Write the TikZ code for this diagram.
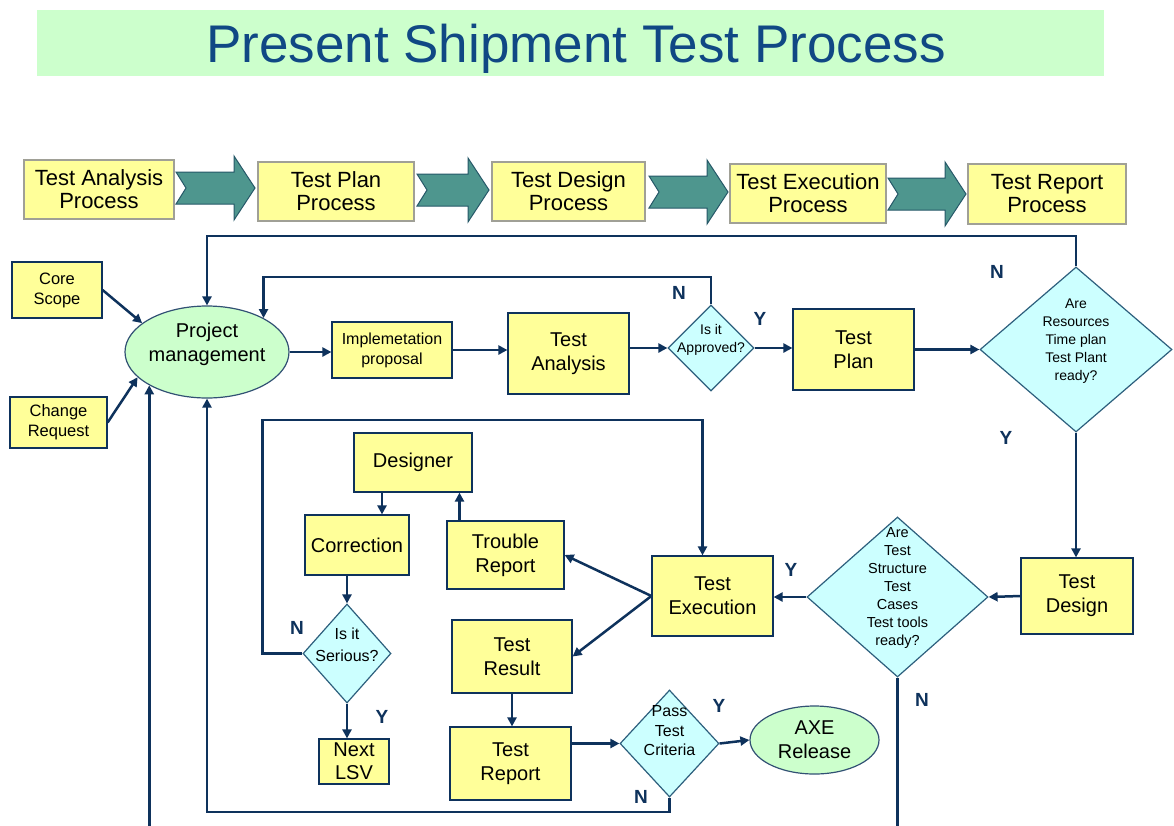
\documentclass[tikz,border=0pt]{standalone}
\usepackage{fontspec}
\setmainfont{Liberation Sans}
\usetikzlibrary{shapes.geometric,arrows.meta}
\definecolor{ln}{RGB}{14,50,92}
\definecolor{boxy}{RGB}{255,255,153}
\definecolor{diac}{RGB}{204,255,255}
\definecolor{ellg}{RGB}{204,255,204}
\definecolor{titc}{RGB}{16,72,132}
\definecolor{arrf}{RGB}{78,150,142}
\definecolor{arrd}{RGB}{38,88,104}
\definecolor{procb}{RGB}{160,160,150}
\definecolor{diab}{RGB}{45,95,125}
\tikzset{
  conn/.style={draw=ln, line width=2.5pt, -{Triangle[length=9pt,width=9pt]}},
  plain/.style={draw=ln, line width=2.5pt},
  box/.style={draw=ln, fill=boxy, line width=1.2pt, rectangle, inner sep=0pt, align=center, font=\fontsize{20}{24}\selectfont},
  proc/.style={draw=procb, fill=boxy, line width=1.2pt, rectangle, inner sep=0pt, align=center, font=\fontsize{22}{23}\selectfont},
  dia/.style={draw=diab, fill=diac, diamond, line width=1.2pt, inner sep=0pt},
  ell/.style={draw=ln!85, fill=ellg, ellipse, line width=1.2pt, inner sep=0pt},
  lbl/.style={text=ln, inner sep=0pt, font=\bfseries\fontsize{19}{19}\selectfont},
  txt/.style={align=center, inner sep=0pt},
  parrow/.style={fill=arrf, draw=arrd, line width=1pt},
}
\newcommand\procarrow[3]{%
  \filldraw[parrow] ({#1},{#3-16}) -- ({#2-21},{#3-16}) -- ({#2-21},{#3-32}) -- ({#2},{#3}) -- ({#2-21},{#3+32}) -- ({#2-21},{#3+16}) -- ({#1},{#3+16}) -- ({#1+10},{#3}) -- cycle;}
\begin{document}
\begin{tikzpicture}[x=1pt,y=-1pt]
\useasboundingbox (0,0) rectangle (1174,825);
\fill[white] (0,0) rectangle (1174,825);
% title
\node[fill=ellg, minimum width=1067pt, minimum height=66pt, inner sep=0pt] (tbar) at (570.5,43) {};
\node[text=titc, anchor=base, inner sep=0pt, font=\fontsize{53}{60}\selectfont] (title) at (576,62) {Present Shipment Test Process};
% process row
\procarrow{176}{255}{188}
\procarrow{417}{489}{190}
\procarrow{649}{728}{192}
\procarrow{888}{966}{194}
\node[proc, minimum width=150pt, minimum height=59pt] (p1) at (99,189.5) {Test Analysis\\Process};
\node[proc, minimum width=156pt, minimum height=59pt] (p2) at (336,191.5) {Test Plan\\Process};
\node[proc, minimum width=153pt, minimum height=59pt] (p3) at (568.5,191.5) {Test Design\\Process};
\node[proc, minimum width=156pt, minimum height=59pt] (p4) at (808,193.5) {Test Execution\\Process};
\node[proc, minimum width=158pt, minimum height=60pt] (p5) at (1047,194) {Test Report\\Process};
% main nodes
\node[ell, minimum width=164pt, minimum height=92pt] (pm) at (207,352) {};
\node[txt, font=\fontsize{20}{24}\selectfont] (pmt) at (207,344) {Project\\management};
\node[box, minimum width=90pt, minimum height=56pt, font=\fontsize{16.5}{20}\selectfont] (core) at (57,290) {Core\\Scope};
\node[box, minimum width=97pt, minimum height=51pt, font=\fontsize{16.5}{20}\selectfont] (chg) at (58.5,422.5) {Change\\Request};
\node[box, minimum width=120pt, minimum height=56pt, font=\fontsize{16}{20}\selectfont] (impl) at (392,350) {Implemetation\\proposal};
\node[box, minimum width=121pt, minimum height=81pt] (ta) at (568.5,353.5) {Test\\Analysis};
\node[dia, minimum width=86pt, minimum height=86pt] (appr) at (711,348) {};
\node[txt, font=\fontsize{14}{18}\selectfont] (apprt) at (711,340) {Is it\\Approved?};
\node[box, minimum width=121pt, minimum height=81pt] (tp) at (853.5,349.5) {Test\\Plan};
\node[dia, minimum width=192pt, minimum height=165pt] (res) at (1076,349.5) {};
\node[txt, font=\fontsize{14}{18}\selectfont] (rest) at (1076,341) {Are\\Resources\\Time plan\\Test Plant\\ready?};
\node[box, minimum width=112pt, minimum height=76pt] (td) at (1077,596) {Test\\Design};
\node[dia, minimum width=181pt, minimum height=160pt] (tsd) at (897.5,597) {};
\node[txt, font=\fontsize{14.5}{18}\selectfont] (tsdt) at (897.5,588) {Are\\Test\\Structure\\Test\\Cases\\Test tools\\ready?};
\node[box, minimum width=121pt, minimum height=80pt] (te) at (712.5,596) {Test\\Execution};
\node[box, minimum width=117pt, minimum height=68pt] (tr) at (505.5,555) {Trouble\\Report};
\node[box, minimum width=120pt, minimum height=73pt] (tres) at (512,656.5) {Test\\Result};
\node[box, minimum width=118pt, minimum height=59pt] (des) at (413,462.5) {Designer};
\node[box, minimum width=104pt, minimum height=60pt] (cor) at (357,545) {Correction};
\node[dia, minimum width=88pt, minimum height=99pt] (ser) at (347,653.5) {};
\node[txt, font=\fontsize{16}{22}\selectfont] (sert) at (347,645) {Is it\\Serious?};
\node[box, minimum width=70pt, minimum height=45pt, font=\fontsize{20}{23}\selectfont] (lsv) at (354,761.5) {Next\\LSV};
\node[box, minimum width=121pt, minimum height=73pt] (trep) at (510.5,763.5) {Test\\Report};
\node[dia, minimum width=99pt, minimum height=107pt] (pass) at (669.5,743.5) {};
\node[txt, font=\fontsize{16}{19.5}\selectfont] (passt) at (669.5,731) {Pass\\Test\\Criteria};
\node[ell, minimum width=129pt, minimum height=68pt] (axe) at (814.5,740) {};
\node[txt, font=\fontsize{20}{24}\selectfont] (axet) at (814.5,740) {AXE\\Release};
% connectors
\draw[conn] (core.east) -- (pm.156);
\draw[conn] (chg.east) -- (pm.200);
\draw[conn] (pm.east) -- (pm.east -| impl.west);
\draw[conn] (impl.east) -- (impl.east -| ta.west);
\draw[conn] (ta.east |- appr.west) -- (appr.west);
\draw[conn] (appr.east) -- (appr.east -| tp.west);
\draw[conn] (tp.east) -- (res.west);
\draw[conn] (appr.north) |- (pm.31 |- 0,277) -- (pm.31);
\draw[conn] (res.north) |- (pm.north |- 0,236) -- (pm.north);
\draw[conn] (res.south) -- (res.south |- td.north);
\draw[conn] (td.west) -- (tsd.east);
\draw[conn] (tsd.west) -- (tsd.west -| te.east);
\coordinate (tsdend) at (tsd.south |- 0,826);
\draw[plain] (tsd.south) -- (tsdend);
\draw[conn] (te.west) -- (tr.east);
\draw[conn] (te.west) -- (tres.east);
\draw[conn] ([xshift=-46pt]tr.north) -- ([xshift=-46pt]tr.north |- des.south);
\draw[conn] ([xshift=-31pt]des.south) -- ([xshift=-31pt]des.south |- cor.north);
\draw[conn] (ser.north |- cor.south) -- (ser.north);
\draw[conn] (ser.south) -- (ser.south |- lsv.north);
\draw[conn] (ser.west) -- ++(-40,0) |- ([xshift=-10pt]te.north |- 0,420) -- ([xshift=-10pt]te.north);
\draw[conn] (tres.south) -- (tres.south |- trep.north);
\draw[conn] (trep.east |- pass.west) -- (pass.west);
\draw[conn] (pass.east) -- (axe.west);
\draw[conn] (pass.south) |- (pm.south |- 0,812) -- (pm.south);
\coordinate (blstart) at (pm.210 |- 0,826);
\draw[conn] (blstart) -- (pm.210);
% labels
\node[lbl] (l1) at (679,293) {N};
\node[lbl] (l2) at (760,319) {Y};
\node[lbl] (l3) at (997,272) {N};
\node[lbl] (l4) at (1006,438) {Y};
\node[lbl] (l5) at (791,570) {Y};
\node[lbl] (l6) at (922,700) {N};
\node[lbl] (l7) at (297,628) {N};
\node[lbl] (l8) at (382,717) {Y};
\node[lbl] (l9) at (719,706) {Y};
\node[lbl] (l10) at (641,797) {N};
\end{tikzpicture}
\end{document}
